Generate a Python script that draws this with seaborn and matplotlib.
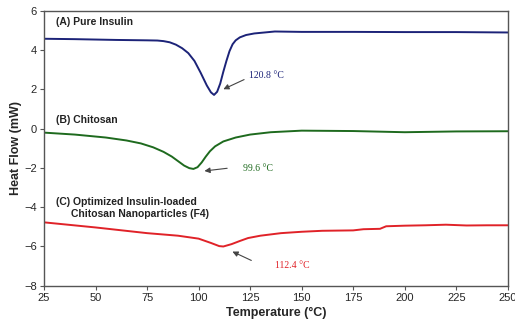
import pandas as pd
import seaborn as sns
import matplotlib.pyplot as plt

# DSC thermograms
insulin_t = [25, 40, 60, 75, 80, 83, 86, 89, 92, 95, 98, 101, 104, 106, 107.5, 109,
             110.5, 112, 113.5, 115, 116.5, 118, 120, 123, 127, 132, 137, 150, 175,
             200, 225, 250]
insulin_hf = [4.58, 4.56, 4.52, 4.5, 4.49, 4.46, 4.4, 4.28, 4.1, 3.85, 3.45, 2.85,
              2.2, 1.85, 1.72, 1.88, 2.3, 2.9, 3.45, 3.95, 4.3, 4.5, 4.65, 4.77, 4.85,
              4.9, 4.95, 4.93, 4.93, 4.92, 4.92, 4.9]

chitosan_t = [25, 40, 55, 65, 72, 78, 83, 87, 90, 93, 95.5, 97.5, 99.5, 101.5, 103.5,
              105.5, 108, 112, 118, 125, 135, 150, 175, 200, 225, 250]
chitosan_hf = [-0.2, -0.3, -0.45, -0.6, -0.75, -0.95, -1.18, -1.42, -1.65, -1.88,
               -2.01, -2.05, -1.96, -1.72, -1.42, -1.15, -0.9, -0.65, -0.45, -0.3,
               -0.18, -0.1, -0.12, -0.18, -0.14, -0.13]

nano_t = [25, 50, 75, 90, 100, 106, 110, 112, 116, 120, 124, 130, 140, 150, 160,
          175, 180, 188, 191, 200, 210, 220, 230, 240, 250]
nano_hf = [-4.77, -5.03, -5.32, -5.45, -5.6, -5.82, -5.98, -6.0, -5.88, -5.72, -5.57,
           -5.45, -5.32, -5.25, -5.2, -5.18, -5.12, -5.1, -4.97, -4.94, -4.92, -4.89,
           -4.93, -4.92, -4.92]

peaks = ["120.8 °C", "99.6 °C", "112.4 °C"]
colors = ["#1c2378", "#1e6a1e", "#e02228"]

df = pd.concat([
    pd.DataFrame({"temp": insulin_t, "hf": insulin_hf, "sample": "A"}),
    pd.DataFrame({"temp": chitosan_t, "hf": chitosan_hf, "sample": "B"}),
    pd.DataFrame({"temp": nano_t, "hf": nano_hf, "sample": "C"}),
])

sns.set_style("ticks")
plt.rcParams["font.family"] = ["Liberation Sans", "DejaVu Sans"]

fig = plt.figure(figsize=(5.15, 3.2), dpi=100)
ax = fig.add_axes([0.0854, 0.107, 0.9006, 0.859])
sns.lineplot(data=df, x="temp", y="hf", hue="sample", palette=colors,
             linewidth=1.4, legend=False, ax=ax)

ax.set_xlim(25, 250)
ax.set_ylim(-8, 6)
ax.set_xticks(range(25, 251, 25))
ax.set_yticks(range(-8, 7, 2))
ax.set_yticklabels([str(v).replace("-", "\u2212") for v in range(-8, 7, 2)])
ax.tick_params(labelsize=8, length=3, color="#555555", pad=2)
for s in ax.spines.values():
    s.set_color("#555555")
    s.set_linewidth(1.0)
ax.set_xlabel("Temperature (°C)", fontsize=9, fontweight="bold", labelpad=3)
ax.set_ylabel("Heat Flow (mW)", fontsize=9, fontweight="bold", labelpad=2)

# sample labels
lab = dict(fontsize=7.5, fontweight="bold", color="#222222", ha="left", va="center")
ax.text(30.8, 5.45, "(A) Pure Insulin", **lab)
ax.text(30.8, 0.45, "(B) Chitosan", **lab)
ax.text(30.8, -3.72, "(C) Optimized Insulin-loaded", **lab)
ax.text(38, -4.32, "Chitosan Nanoparticles (F4)", **lab)

# peak annotations
arrow = dict(arrowstyle="-|>", color="#444444", lw=0.8, mutation_scale=8)
serif = ["Liberation Serif", "DejaVu Serif"]
ax.annotate("", xy=(110.8, 1.95), xytext=(123.3, 2.56), arrowprops=arrow)
ax.text(124.5, 2.72, peaks[0], color=colors[0], fontsize=7, family=serif, va="center")
ax.annotate("", xy=(101.5, -2.17), xytext=(115.2, -2.0), arrowprops=arrow)
ax.text(121.4, -2.03, peaks[1], color=colors[1], fontsize=7, family=serif, va="center")
ax.annotate("", xy=(115.2, -6.2), xytext=(126.8, -6.77), arrowprops=arrow)
ax.text(137, -6.95, peaks[2], color=colors[2], fontsize=7, family=serif, va="center")

fig.savefig("out.png", dpi=100)
